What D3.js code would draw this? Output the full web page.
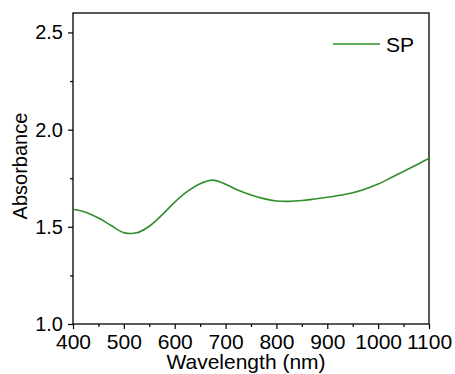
<!DOCTYPE html>
<html>
<head>
<meta charset="utf-8">
<script src="https://cdn.jsdelivr.net/npm/d3@7"></script>
<style>
  body { margin: 0; background: #fff; }
  svg text { font-family: "Liberation Sans", Arial, sans-serif; fill: #000; }
</style>
</head>
<body>
<div id="chart"></div>
<script>
// spectrum of SP
const wavelengths = [400, 425, 450, 475, 500, 525, 550, 575, 600, 625, 650, 675, 700, 725, 750,
    775, 800, 825, 850, 875, 900, 925, 950, 975, 1000, 1025, 1050, 1075, 1100];
const absorbance = [1.590, 1.575, 1.545, 1.507, 1.470, 1.469, 1.503, 1.561, 1.627, 1.682, 1.722, 1.740,
    1.719, 1.688, 1.664, 1.645, 1.633, 1.631, 1.635, 1.643, 1.652, 1.662, 1.675, 1.695, 1.720,
    1.752, 1.785, 1.818, 1.853];
const xTicks = [400, 500, 600, 700, 800, 900, 1000, 1100];
const yTicks = [1.0, 1.5, 2.0, 2.5];
const seriesName = "SP";

const W = 455, H = 374;
const margin = { top: 13, right: 26, bottom: 50, left: 73 };
const width = W - margin.left - margin.right;
const height = H - margin.top - margin.bottom;

const svg = d3.select("#chart")
    .append("svg")
    .attr("width", W)
    .attr("height", H);

const g = svg.append("g")
    .attr("transform", `translate(${margin.left},${margin.top})`);

const x = d3.scaleLinear().domain([400, 1100]).range([0, width]);
const y = d3.scaleLinear().domain([1.0, 2.6]).range([height, 0]);

// minor ticks
const xMinor = d3.range(450, 1100, 100);
const yMinor = [1.25, 1.75, 2.25];

g.append("g")
    .attr("transform", `translate(0,${height})`)
    .call(d3.axisBottom(x).tickValues(xMinor).tickSize(3).tickFormat(""))
    .call(a => a.select(".domain").remove());

g.append("g")
    .call(d3.axisLeft(y).tickValues(yMinor).tickSize(3).tickFormat(""))
    .call(a => a.select(".domain").remove());

const xAxis = g.append("g")
    .attr("transform", `translate(0,${height})`)
    .call(d3.axisBottom(x).tickValues(xTicks).tickSize(5).tickPadding(5).tickFormat(d3.format("d")));
xAxis.selectAll("text").style("font-size", "21px");

const yAxis = g.append("g")
    .call(d3.axisLeft(y).tickValues(yTicks).tickSize(5).tickPadding(5).tickFormat(d3.format(".1f")));
yAxis.selectAll("text").style("font-size", "20px");

svg.selectAll(".tick line").attr("stroke", "#000").attr("stroke-width", 1.2);
svg.selectAll(".domain").remove();

// frame
g.append("rect")
    .attr("width", width)
    .attr("height", height)
    .attr("fill", "none")
    .attr("stroke", "#000")
    .attr("stroke-width", 1.3);

const data = wavelengths.map((w, i) => ({ w: w, a: absorbance[i] }));

g.append("path")
    .datum(data)
    .attr("fill", "none")
    .attr("stroke", "#2f8f2a")
    .attr("stroke-width", 1.6)
    .attr("d", d3.line().x(d => x(d.w)).y(d => y(d.a)).curve(d3.curveCatmullRom));

// legend
g.append("line")
    .attr("x1", 260).attr("x2", 307)
    .attr("y1", 31).attr("y2", 31)
    .attr("stroke", "#2f8f2a")
    .attr("stroke-width", 1.6);
g.append("text")
    .attr("x", 313).attr("y", 39)
    .style("font-size", "21px")
    .text(seriesName);

// axis titles
svg.append("text")
    .attr("x", 246).attr("y", 369)
    .attr("text-anchor", "middle")
    .style("font-size", "21px")
    .text("Wavelength (nm)");

svg.append("text")
    .attr("transform", `translate(27,166) rotate(-90)`)
    .attr("text-anchor", "middle")
    .style("font-size", "20px")
    .text("Absorbance");
</script>
</body>
</html>
